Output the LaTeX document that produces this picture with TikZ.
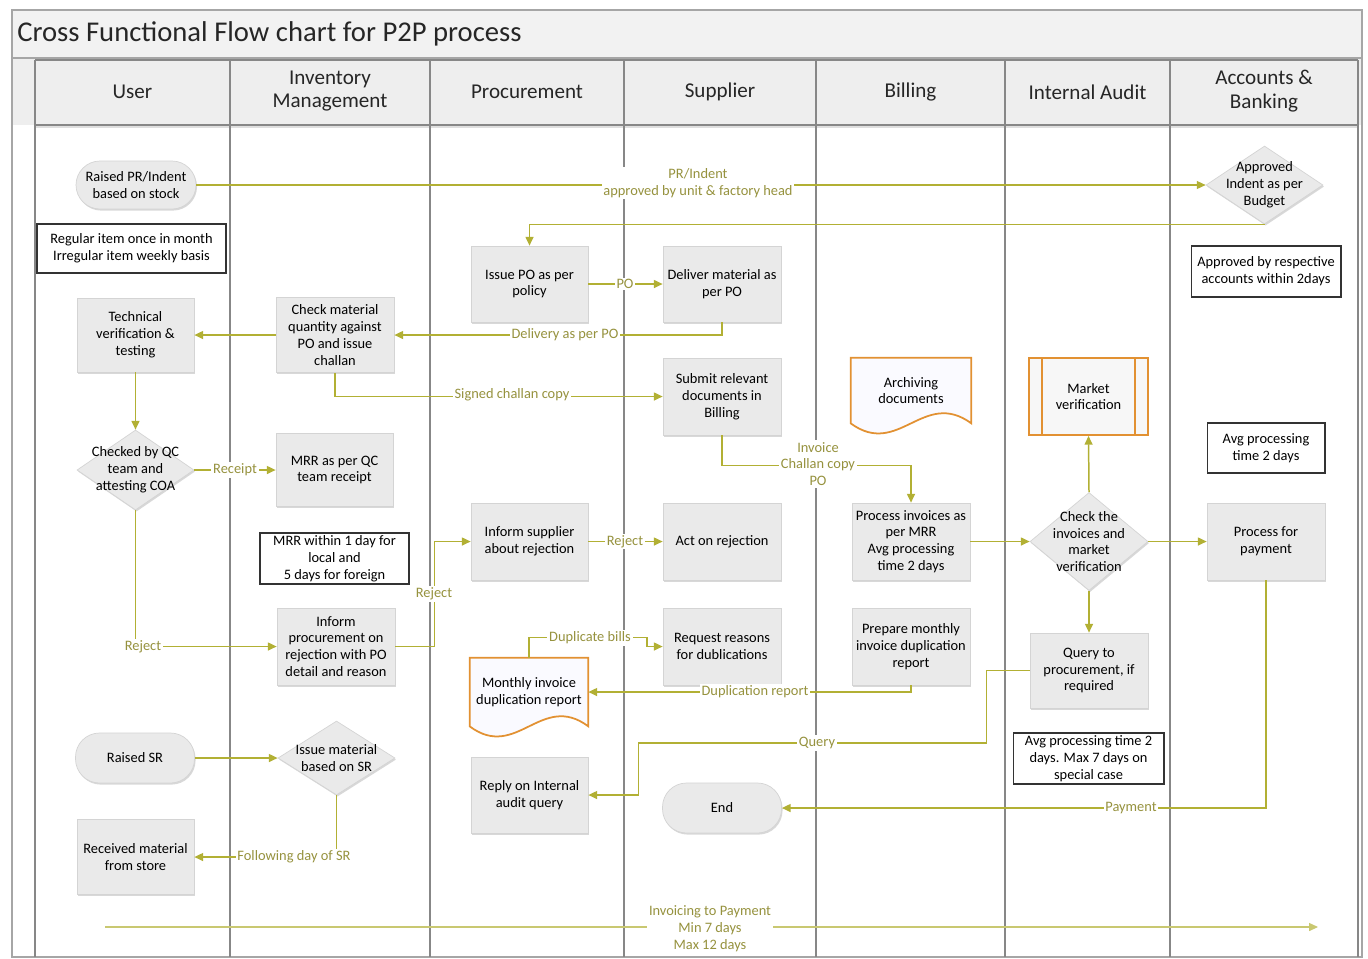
\documentclass[tikz,border=0pt]{standalone}
\usepackage{fontspec}
\setmainfont{Carlito}
\usetikzlibrary{arrows.meta,shadows,calc,shapes.geometric,backgrounds}
\newcommand{\myfnt}{\fontsize{8.2}{9.6}\selectfont}
\newcommand{\hdrfnt}{\fontsize{12}{13.6}\selectfont}
\newcommand{\ttlfnt}{\fontsize{16.3}{19}\selectfont}
\definecolor{lnc}{RGB}{178,176,52}
\definecolor{labc}{RGB}{150,146,62}
\definecolor{boxf}{RGB}{234,234,234}
\definecolor{boxd}{RGB}{212,212,212}
\definecolor{orng}{RGB}{226,145,50}
\definecolor{lanec}{RGB}{135,135,135}
\definecolor{hdrf}{RGB}{238,238,238}
\definecolor{ttlf}{RGB}{242,242,242}
\begin{document}
\begin{tikzpicture}[x=0.02cm,y=-0.02cm,
  shd/.style={drop shadow={opacity=0.3,shadow xshift=0.6pt,shadow yshift=-0.9pt}},
  proc/.style={draw=boxd, fill=boxf, shd, minimum width=2.34cm, minimum height=1.52cm, align=center, font=\myfnt, inner sep=1pt},
  pill/.style={proc, rounded corners=0.48cm, minimum height=0.98cm, minimum width=2.38cm},
  dia/.style={diamond, draw=boxd, fill=boxf, shd, minimum width=2.34cm, minimum height=1.6cm, inner sep=0pt},
  dtxt/.style={font=\myfnt, align=center, inner sep=0pt},
  note/.style={draw=black!80, line width=0.6pt, fill=white, align=center, font=\myfnt, inner sep=1pt},
  docn/.style={align=center, font=\myfnt, inner sep=1pt, minimum width=2.36cm},
  docd/.style={draw=orng, line width=1pt, fill=blue!2},
  hdr/.style={font=\hdrfnt, align=center, text=black!85, inner sep=0pt},
  lane/.style={draw=lanec, line width=0.8pt},
  conn/.style={draw=lnc, line width=0.85pt, -{Triangle[length=5pt,width=4.5pt]}},
  lab/.style={font=\myfnt, text=labc, fill=white, inner sep=1pt, align=center}
]
\useasboundingbox (0,0) rectangle (1368,958);
% frame, title and lanes (background layer)
\begin{scope}[on background layer]
\fill[white] (12,10) rectangle (1362,957);
\fill[ttlf] (12,10) rectangle (1362,58);
\fill[hdrf] (12,58) rectangle (1362,125);
\fill[gray!25] (35,125) rectangle (1358,128);
\draw[gray!70, line width=0.6pt] (12,10) rectangle (1362,957);
\draw[gray!70, line width=0.6pt] (12,58) -- (1362,58);
\foreach \lx in {35,230,430,624,816,1005,1170,1358} { \draw[lane] (\lx,60) -- (\lx,957); }
\draw[lane] (35,60) -- (1358,60);
\draw[lane] (35,125) -- (1358,125);
\end{scope}
\node[anchor=west, font=\ttlfnt, text=black!85, inner sep=0pt] (title) at (17,34) {Cross Functional Flow chart for P2P process};
\node[hdr] (hU) at (132.5,92) {User};
\node[hdr] (hI) at (330,91) {Inventory\\Management};
\node[hdr] (hP) at (527,92) {Procurement};
\node[hdr] (hS) at (720,92) {Supplier};
\node[hdr] (hB) at (910.5,92) {Billing};
\node[hdr] (hA) at (1087.5,92) {Internal Audit};
\node[hdr] (hK) at (1264,91) {Accounts \&\\Banking};

% User lane
\node[pill, minimum width=2.4cm, minimum height=0.96cm] (rpr) at (136,185) {Raised PR/Indent\\based on stock};
\node[note, minimum width=3.78cm, minimum height=0.98cm] (reg) at (131.5,248.5) {Regular item once in month\\Irregular item weekly basis};
\node[proc, minimum height=1.48cm] (tech) at (135.5,335) {Technical\\verification \&\\testing};
\node[dia, label={[dtxt]center:{Checked by QC\\team and\\attesting COA}}] (qc) at (135.5,470) {};
\node[pill, minimum height=1.0cm] (rsr) at (135,758) {Raised SR};
\node[proc, minimum height=1.5cm] (recv) at (135.5,857) {Received material\\from store};

% Inventory lane
\node[proc, minimum width=2.36cm, minimum height=1.5cm] (chk) at (335,335) {Check material\\quantity against\\PO and issue\\challan};
\node[proc, minimum height=1.46cm] (mrr) at (334.5,470) {MRR as per QC\\team receipt};
\node[note, minimum width=2.98cm, minimum height=1.02cm] (mrrn) at (334.5,558.5) {MRR within 1 day for\\local and\\5 days for foreign};
\node[proc, minimum width=2.36cm, minimum height=1.54cm] (infp) at (336,646.5) {Inform\\procurement on\\rejection with PO\\detail and reason};
\node[dia, minimum height=1.48cm, label={[dtxt]center:{Issue material\\based on SR}}] (ism) at (336.5,758) {};

% Procurement lane
\node[proc] (ipo) at (529.5,284) {Issue PO as per\\policy};
\node[proc, minimum height=1.54cm] (isup) at (529.5,541.5) {Inform supplier\\about rejection};
\node[docn, minimum height=1.36cm] (mon) at (529,692) {Monthly invoice\\duplication report};
\node[proc] (rep) at (529.5,795) {Reply on Internal\\audit query};

% Supplier lane
\node[proc, minimum width=2.36cm] (del) at (722,284) {Deliver material as\\per PO};
\node[proc, minimum width=2.36cm, minimum height=1.54cm] (sub) at (722,396.5) {Submit relevant\\documents in\\Billing};
\node[proc, minimum width=2.36cm, minimum height=1.54cm] (act) at (722,541.5) {Act on rejection};
\node[proc, minimum width=2.36cm, minimum height=1.54cm] (req) at (722,646.5) {Request reasons\\for dublications};
\node[pill, minimum height=1.0cm] (endn) at (722,808) {End};

% Billing lane
\node[docn, minimum width=2.4cm, minimum height=1.3cm] (arch) at (911,390.5) {Archiving\\documents};
\node[proc, minimum width=2.36cm, minimum height=1.54cm] (pinv) at (911,541.5) {Process invoices as\\per MRR\\Avg processing\\time 2 days};
\node[proc, minimum width=2.36cm, minimum height=1.54cm] (prep) at (911,646.5) {Prepare monthly\\invoice duplication\\report};

% Internal audit lane
\node[draw=orng, line width=1pt, fill=gray!6, minimum width=2.38cm, minimum height=1.54cm, align=center, font=\myfnt] (mkt) at (1088.5,396.5) {Market\\verification};
\draw[orng, line width=0.8pt] ([xshift=0.28cm]mkt.north west) -- ([xshift=0.28cm]mkt.south west);
\draw[orng, line width=0.8pt] ([xshift=-0.28cm]mkt.north east) -- ([xshift=-0.28cm]mkt.south east);
\node[dia, minimum width=2.36cm, minimum height=1.96cm, label={[dtxt]center:{Check the\\invoices and\\market\\verification}}] (chkinv) at (1089,541.5) {};
\node[proc, minimum width=2.36cm, minimum height=1.5cm] (qry) at (1089,670.5) {Query to\\procurement, if\\required};
\node[note, minimum width=3.02cm, minimum height=1.02cm] (avgn) at (1088.5,758.5) {Avg processing time 2\\days. Max 7 days on\\special case};

% Accounts lane
\node[dia, minimum height=1.56cm, label={[dtxt]center:{Approved\\Indent as per\\Budget}}] (appr) at (1264.5,185) {};
\node[note, minimum width=3.0cm, minimum height=1.02cm] (apprn) at (1266,271.5) {Approved by respective\\accounts within 2days};
\node[note, minimum width=2.36cm, minimum height=1.0cm] (avgp) at (1266,448) {Avg processing\\time 2 days};
\node[proc, minimum width=2.36cm, minimum height=1.54cm] (pay) at (1266,541.5) {Process for\\payment};

% document shapes (drawn behind their text, above the frame fill)
\begin{scope}[on background layer]
\draw[docd] (mon.north west) -- (mon.north east) -- (mon.south east) .. controls +(-47,-35) and +(47,35) .. (mon.south west) -- cycle;
\draw[docd] (arch.north west) -- (arch.north east) -- (arch.south east) .. controls +(-48,-35) and +(48,35) .. (arch.south west) -- cycle;
\end{scope}

% connectors
\draw[conn, line width=0.6pt] (rpr.east) -- (appr.west);
\draw[conn] (appr.south) -| (ipo.north);
\draw[conn] (ipo.east) -- (del.west);
\draw[conn] (del.south) |- (chk.east);
\draw[conn] (chk.west) -- (tech.east);
\draw[conn] (chk.south) |- (sub.west);
\draw[conn] (tech.south) -- (qc.north);
\draw[conn] (qc.east) -- (mrr.west);
\draw[conn] (qc.south) |- (infp.west);
\draw[conn] (infp.east) -- ++(39,0) |- (isup.west);
\draw[conn] (isup.east) -- (act.west);
\draw[conn] (sub.south) -- ++(0,30) -| (pinv.north);
\draw[conn] (pinv.east) -- (chkinv.west);
\draw[conn] (chkinv.north) -- (mkt.south);
\draw[conn] (chkinv.east) -- (pay.west);
\draw[conn] (chkinv.south) -- (qry.north);
\draw[conn] (qry.west) -- ++(-43,0) |- ($(rep.east)+(50,-52)$) -- ($(rep.east)+(50,0)$) -- (rep.east);
\draw[conn] (prep.south) |- (mon.east);
\draw[conn] (mon.north) -- ++(0,-20) -- ++(118,0) |- (req.west);
\draw[conn] (pay.south) |- (endn.east);
\draw[conn] (rsr.east) -- (ism.west);
\draw[conn] (ism.south) |- (recv.east);
\coordinate (t0) at (105,927);
\coordinate (t1) at (1318,927);
\draw[conn, draw=lnc!70, line width=0.6pt] (t0) -- (t1);

% labels
\node[lab] (lpr) at (698,183) {PR/Indent\\approved by unit \& factory head};
\node[lab] (lpo) at (625,284) {PO};
\node[lab] (ldel) at (565,335) {Delivery as per PO};
\node[lab] (lsig) at (512,395) {Signed challan copy};
\node[lab] (lrec) at (235,470) {Receipt};
\node[lab] (lrj1) at (143,646.5) {Reject};
\node[lab] (lrj2) at (434,594) {Reject};
\node[lab] (lrj3) at (625,541.5) {Reject};
\node[lab] (linv) at (818,464) {Invoice\\Challan copy\\PO};
\node[lab] (ldup) at (590,638) {Duplicate bills};
\node[lab] (ldpr) at (755,692) {Duplication report};
\node[lab] (lq) at (817,743) {Query};
\node[lab] (lpay) at (1131,808) {Payment};
\node[lab] (lfol) at (294,857) {Following day of SR};
\node[lab] (ltl) at (710,929) {Invoicing to Payment\\Min 7 days\\Max 12 days};
\end{tikzpicture}
\end{document}
